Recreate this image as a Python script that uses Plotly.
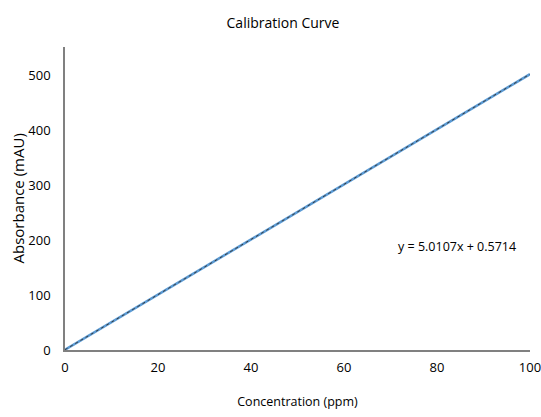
import plotly.graph_objects as go

# Data
concentration = [0, 20, 40, 60, 80, 100]
absorbance = [0.6, 100.8, 201.0, 301.2, 401.4, 501.6]

# Linear trendline as shown on chart
slope = 5.0107
intercept = 0.5714
trend_x = [0, 100]
trend_y = [slope * x + intercept for x in trend_x]

x_ticks = [0, 20, 40, 60, 80, 100]
y_ticks = [0, 100, 200, 300, 400, 500]

font_family = "Open Sans, Liberation Sans, sans-serif"

fig = go.Figure()
fig.add_trace(go.Scatter(x=concentration, y=absorbance, mode="lines",
                         line=dict(color="#5B9BD5", width=2.6), showlegend=False,
                         cliponaxis=False))
fig.add_trace(go.Scatter(x=trend_x, y=trend_y, mode="lines",
                         line=dict(color="#3a3a3a", width=1.0, dash="dot"), showlegend=False,
                         cliponaxis=False))

fig.add_annotation(x=84.3, y=189, xref="x", yref="y",
                   text=f"y = {slope}x + {intercept}", showarrow=False,
                   font=dict(family=font_family, size=12.5, color="#000000"))

# y-axis title placed as a rotated annotation for exact position
fig.add_annotation(x=(17 - 65) / 465, y=0.5, xref="paper", yref="paper",
                   text="Absorbance (mAU)", textangle=-90, showarrow=False,
                   xanchor="center", yanchor="middle",
                   font=dict(family=font_family, size=15, color="#000000"))

fig.update_layout(
    width=541, height=417,
    margin=dict(l=65, r=11, t=47, b=67, autoexpand=False),
    paper_bgcolor="white", plot_bgcolor="white",
    title=dict(text="Calibration Curve", x=283/541, xanchor="center", y=1-23/417, yanchor="middle",
               font=dict(family=font_family, size=14, color="#000000")),
    font=dict(family=font_family, size=13, color="#000000"),
    xaxis=dict(range=[0, 100], tickvals=x_ticks, showgrid=False, zeroline=False,
               showline=True, linecolor="#808080", linewidth=1.5,
               ticks="outside", ticklen=5, tickcolor="rgba(0,0,0,0)", automargin=False,
               ticklabeloverflow="allow",
               tickfont=dict(family=font_family, size=13),
               title=dict(text="Concentration (ppm)", standoff=22,
                          font=dict(family=font_family, size=12.5))),
    yaxis=dict(range=[0, 551], tickvals=y_ticks, showgrid=False, zeroline=False,
               showline=True, linecolor="#808080", linewidth=1.5,
               ticks="outside", ticklen=10, tickcolor="rgba(0,0,0,0)", automargin=False,
               tickfont=dict(family=font_family, size=13)),
)

fig.write_html("out.html", config={"displayModeBar": False},
               post_script="document.body.style.margin='0';")
